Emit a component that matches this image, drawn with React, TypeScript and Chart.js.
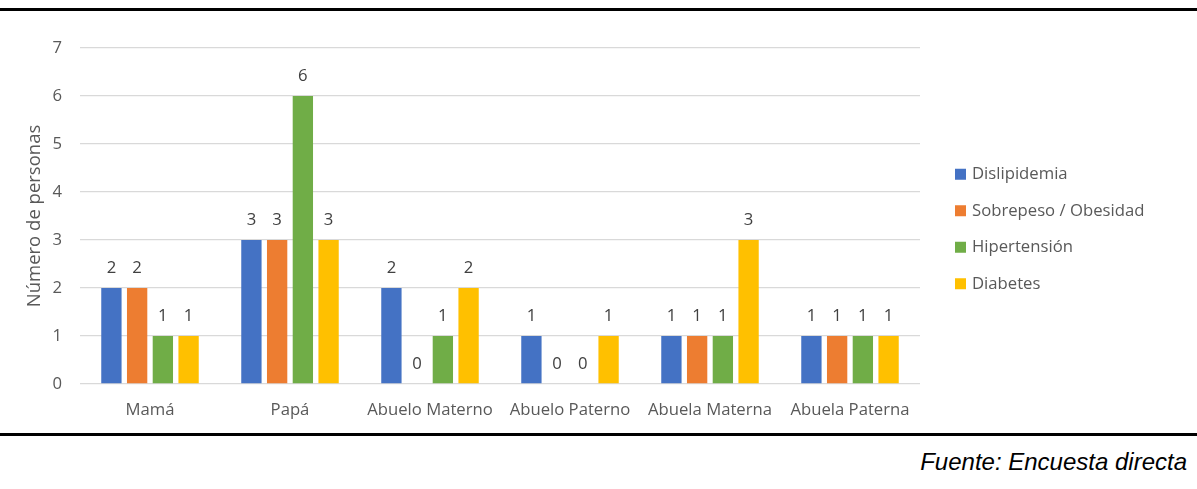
import React, { useEffect, useRef } from "react";
import { Chart, registerables } from "chart.js";

Chart.register(...registerables);

const categories = ["Mamá", "Papá", "Abuelo Materno", "Abuelo Paterno", "Abuela Materna", "Abuela Paterna"];
const dislipidemia = [2, 3, 2, 1, 1, 1];
const sobrepeso = [2, 3, 0, 0, 1, 1];
const hipertension = [1, 6, 1, 0, 1, 1];
const diabetes = [1, 3, 2, 1, 3, 1];
const seriesNames = ["Dislipidemia", "Sobrepeso / Obesidad", "Hipertensión", "Diabetes"];
const seriesColors = ["#4472C4", "#ED7D31", "#70AD47", "#FFC000"];
const yTicks = [0, 1, 2, 3, 4, 5, 6, 7];

const FONT = "'Open Sans', sans-serif";
const SIZE = 16.7;

// Value labels above every bar
const valueLabels = {
  id: "valueLabels",
  afterDatasetsDraw(chart: any) {
    const ctx = chart.ctx;
    ctx.save();
    ctx.font = `${SIZE}px ${FONT}`;
    ctx.fillStyle = "#404040";
    ctx.textAlign = "center";
    ctx.textBaseline = "middle";
    chart.data.datasets.forEach((ds: any, i: number) => {
      const meta = chart.getDatasetMeta(i);
      meta.data.forEach((bar: any, j: number) => {
        ctx.fillText(String(ds.data[j]), bar.x, bar.y - 20);
      });
    });
    ctx.restore();
  },
};

// Legend drawn to the right of the plot
const sideLegend = {
  id: "sideLegend",
  afterDraw(chart: any) {
    const ctx = chart.ctx;
    const x0 = chart.chartArea.right + 35;
    const yc = (chart.chartArea.top + chart.chartArea.bottom) / 2 + 13;
    const step = 36.5;
    const n = chart.data.datasets.length;
    ctx.save();
    ctx.font = `${SIZE}px ${FONT}`;
    ctx.textBaseline = "middle";
    ctx.textAlign = "left";
    chart.data.datasets.forEach((ds: any, i: number) => {
      const y = yc + (i - (n - 1) / 2) * step;
      ctx.fillStyle = ds.backgroundColor;
      ctx.fillRect(x0, y - 5.5, 11, 11);
      ctx.fillStyle = "#595959";
      ctx.fillText(ds.label, x0 + 17, y);
    });
    ctx.restore();
  },
};

export default function App() {
  const ref = useRef<HTMLCanvasElement | null>(null);

  useEffect(() => {
    if (!ref.current) return;
    const seriesData = [dislipidemia, sobrepeso, hipertension, diabetes];
    const chart = new Chart(ref.current, {
      type: "bar",
      data: {
        labels: categories,
        datasets: seriesNames.map((name, i) => ({
          label: name,
          data: seriesData[i],
          backgroundColor: seriesColors[i],
          borderWidth: 0,
          categoryPercentage: 0.735,
          barPercentage: 0.79,
        })),
      },
      options: {
        responsive: false,
        animation: false,
        layout: { padding: { top: 36, right: 277, bottom: 0, left: 0 } },
        plugins: {
          legend: { display: false },
          tooltip: { enabled: false },
        },
        scales: {
          x: {
            grid: { display: false, drawTicks: false },
            border: { display: false },
            ticks: {
              color: "#595959",
              font: { family: FONT, size: SIZE },
              padding: 16,
              maxRotation: 0,
              autoSkip: false,
            },
            afterFit: (s: any) => {
              s.height = 48;
            },
          },
          y: {
            min: 0,
            max: 7,
            afterBuildTicks: (s: any) => {
              s.ticks = yTicks.map((v) => ({ value: v }));
            },
            grid: { color: "#d9d9d9", lineWidth: 1.3, drawTicks: false },
            border: { display: false },
            ticks: {
              color: "#595959",
              font: { family: FONT, size: SIZE },
              padding: 18,
            },
            title: {
              display: true,
              text: "Número de personas",
              color: "#595959",
              font: { family: FONT, size: 18.5 },
              padding: { top: 24, bottom: 0 },
            },
            afterFit: (s: any) => {
              s.width = 80;
            },
          },
        },
      },
      plugins: [valueLabels, sideLegend],
    });
    return () => chart.destroy();
  }, []);

  return (
    <div style={{ position: "absolute", left: 0, top: 0, width: 1197, height: 489, background: "#fff" }}>
      <div style={{ position: "absolute", left: 0, top: 8, width: 1197, height: 3, background: "#000" }} />
      <canvas ref={ref} width={1197} height={420} style={{ position: "absolute", left: 0, top: 12 }} />
      <div style={{ position: "absolute", left: 0, top: 433, width: 1197, height: 3, background: "#000" }} />
      <div
        style={{
          position: "absolute",
          right: 10,
          top: 446,
          fontFamily: "'Liberation Sans', Arial, sans-serif",
          fontStyle: "italic",
          fontSize: 24,
          lineHeight: "32px",
          color: "#000",
          whiteSpace: "nowrap",
        }}
      >
        Fuente: Encuesta directa
      </div>
    </div>
  );
}
